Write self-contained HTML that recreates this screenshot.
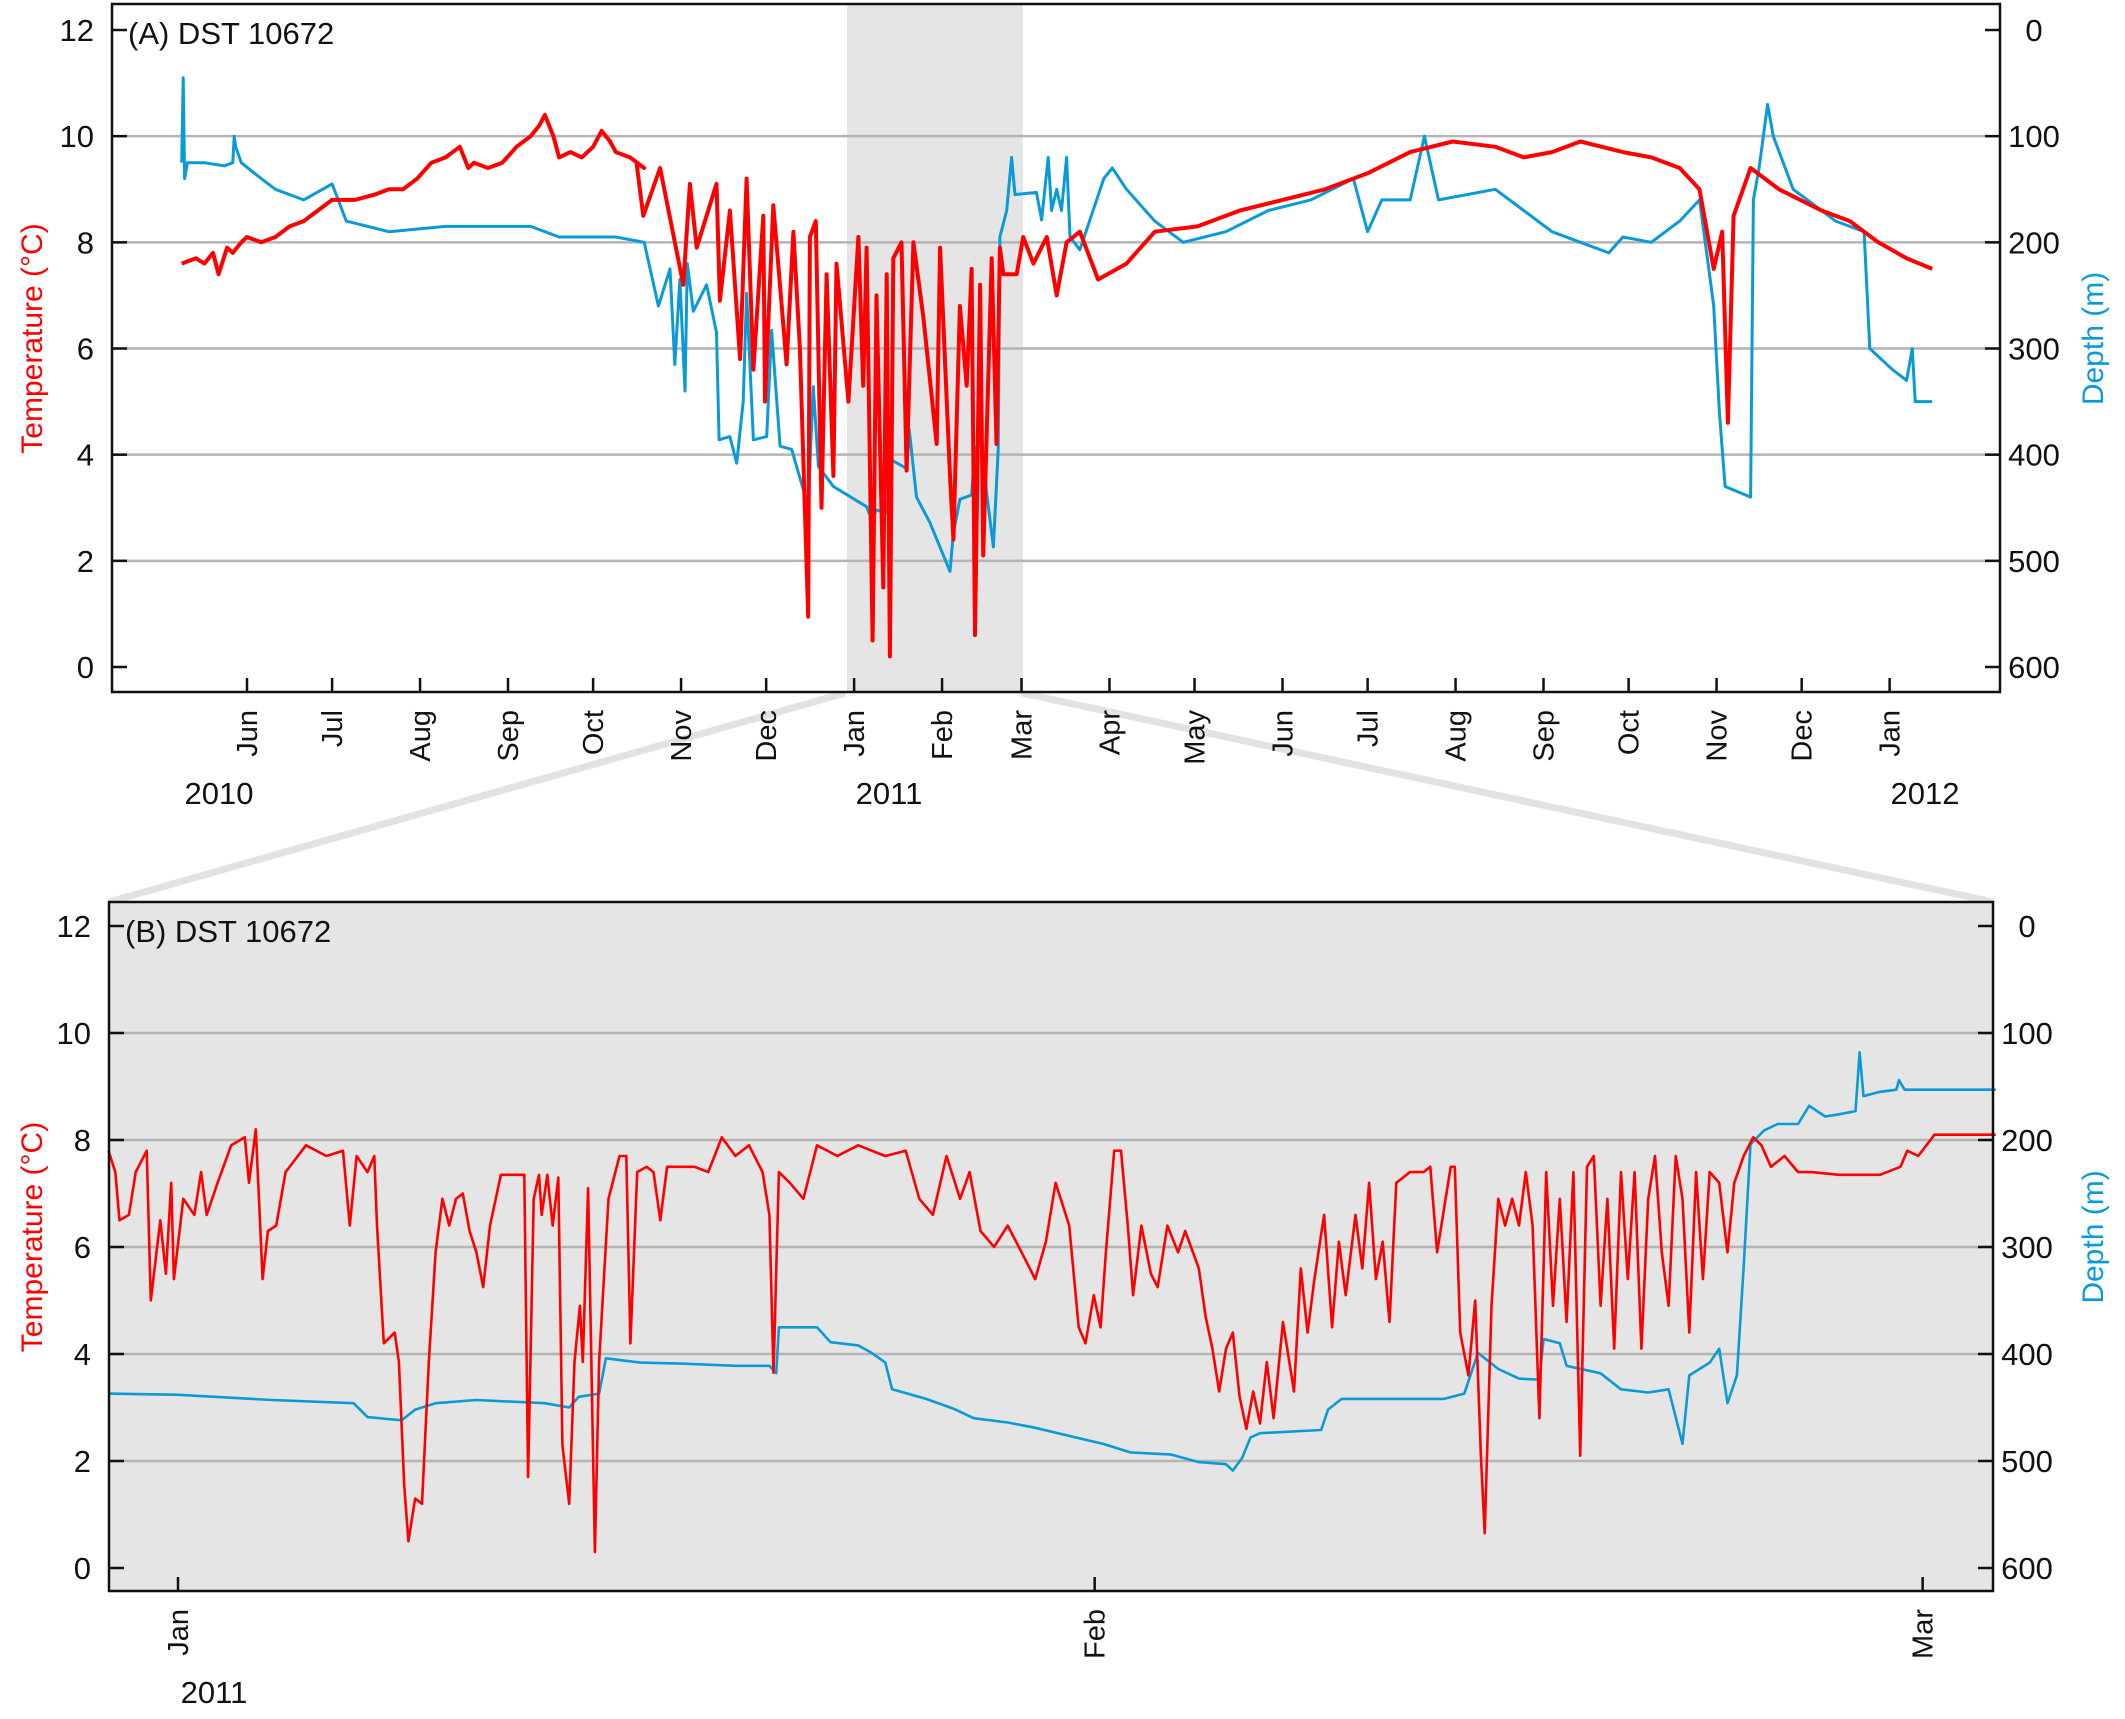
<!DOCTYPE html>
<html><head><meta charset="utf-8"><style>
body{margin:0;background:#fff}
svg text{font-family:"Liberation Sans",sans-serif}
</style></head><body>
<svg id="fig" width="2125" height="1714" viewBox="0 0 2125 1714" xmlns="http://www.w3.org/2000/svg"></svg>
<script>
// Panel A: days since 1 Jun 2010
const dayA_T=[-23,-18,-15,-12,-10,-7,-5,-2,0,5,10,15,20,25,30,38,45,50,55,60,65,70,75,78,80,85,90,95,100,103,105,108,110,114,118,122,125,128,130,135,140,
137.3,139.7,145.6,153.8,156.1,158.5,165.5,166.7,170.2,173.8,176.1,178.5,182,182.6,185.5,190.2,192.6,194.9,197.8,198.4,200.5,202.5,204.3,206.7,207.8,212,215.5,217.2,218.4,220.5,221.9,224.3,225.5,226.6,227.8,230.7,232.5,234.9,238.4,243.1,244.3,247.8,249,251.3,253.7,255.4,256.6,258.4,259.5,262.5,264.2,265.4,266.6,271.3,273.6,277.2,281.9,285.4,288.9,293.6,
300,310,320,335,350,365,380,395,410,425,440,450,460,470,485,495,505,512,517,520,522,524,530,540,555,565,575,585,594];
const tempA=[7.6,7.7,7.6,7.8,7.4,7.9,7.8,8.0,8.1,8.0,8.1,8.3,8.4,8.6,8.8,8.8,8.9,9.0,9.0,9.2,9.5,9.6,9.8,9.4,9.5,9.4,9.5,9.8,10.0,10.2,10.4,10.0,9.6,9.7,9.6,9.8,10.1,9.9,9.7,9.6,9.4,
9.5,8.5,9.4,7.2,9.1,7.9,9.1,6.9,8.6,5.8,9.2,5.6,8.5,5.0,8.7,5.7,8.2,6.0,0.95,8.1,8.4,3.0,7.4,3.6,7.6,5.0,8.1,5.3,7.9,0.5,7.0,1.5,7.4,0.2,7.7,8.0,3.7,8.0,6.6,4.2,7.9,3.6,2.4,6.8,5.3,7.5,0.6,7.2,2.1,7.7,4.2,7.9,7.4,7.4,8.1,7.6,8.1,7.0,8.0,8.2,
7.3,7.6,8.2,8.3,8.6,8.8,9.0,9.3,9.7,9.9,9.8,9.6,9.7,9.9,9.7,9.6,9.4,9.0,7.5,8.2,4.6,8.5,9.4,9.0,8.6,8.4,8.0,7.7,7.5];
const dayA_D=[-23,-22.5,-22,-21,-15,-8,-5,-4.5,-4,-2,5,10,20,30,35,50,70,100,110,130,140,145,149.1,150.8,152.6,154.4,155.2,157.3,162,165.5,166.4,170.2,172.6,174.9,176.1,178.5,183.2,184.9,187.9,192,196.1,197.8,199.6,201.4,206.7,218.4,220.2,221.9,225.5,227.2,232.5,233.4,236,240.7,247.8,249,251.3,255.4,256.6,258.9,260.7,263.1,264.8,265.4,267.8,269.5,270.7,278.3,280.1,282.4,283.6,285.4,287.1,288.9,290.1,293.6,
302,305,310,320,330,345,360,375,390,393,395,400,410,415,420,440,450,460,470,480,485,495,505,512,515,517,519,521,530,531,533,536,538,545,560,570,572,580,585,587,588,594];
const depthA=[125,45,140,125,125,128,125,100,110,125,140,150,160,145,180,190,185,185,195,195,200,260,225,315,235,340,220,265,240,285,386,383,408,350,248,386,383,283,392,395,433,447,336,411,430,449,461,452,455,405,413,376,440,464,510,474,442,438,395,383,436,487,395,195,170,120,155,153,179,120,170,150,170,120,195,207,
140,130,150,180,200,190,170,160,140,170,190,160,160,100,160,150,170,190,200,210,195,200,180,160,220,260,360,430,440,160,130,70,100,150,180,190,300,320,330,300,350,350];
// Panel B: days since 1 Jan 2011
const dayB_T=[-2.35,-2.12,-1.98,-1.66,-1.43,-1.06,-0.92,-0.6,-0.41,-0.23,-0.14,0.18,0.55,0.78,0.97,1.34,1.8,2.26,2.4,2.63,2.86,3.04,3.32,3.64,4.33,5.02,5.58,5.81,6.04,6.41,6.64,6.73,6.96,7.33,7.47,7.65,7.79,8.02,8.25,8.48,8.71,8.94,9.17,9.4,9.63,9.86,10.09,10.32,10.55,10.92,11.71,11.84,12.03,12.21,12.3,12.49,12.67,12.86,13.0,13.23,13.41,13.59,13.69,13.87,14.1,14.24,14.56,14.93,15.16,15.3,15.53,15.85,16.08,16.31,16.54,17.47,17.93,18.39,18.85,19.31,19.77,20.0,20.14,20.32,20.69,21.15,21.61,22.3,23.0,23.92,24.61,25.07,25.53,25.99,26.45,26.77,27.14,27.6,28.06,28.53,28.99,29.35,29.68,30.14,30.46,30.69,30.97,31.2,31.38,31.66,31.89,32.12,32.3,32.58,32.9,33.13,33.46,33.82,34.06,34.52,34.75,34.98,35.21,35.44,35.67,35.9,36.13,36.36,36.59,36.82,37.05,37.37,37.74,37.97,38.2,38.43,38.76,39.03,39.26,39.49,39.82,40.05,40.28,40.51,40.74,40.97,41.2,41.66,42.12,42.35,42.58,43.04,43.18,43.36,43.64,43.87,44.06,44.19,44.42,44.65,44.88,45.12,45.35,45.58,45.81,46.04,46.27,46.5,46.73,46.96,47.19,47.42,47.65,47.88,48.11,48.34,48.57,48.8,49.03,49.26,49.49,49.72,49.95,50.18,50.41,50.65,50.88,51.11,51.34,51.57,51.8,52.12,52.4,52.63,52.95,53.27,53.55,53.87,54.33,54.79,55.25,56.17,57.56,58.25,58.48,58.85,59.4,61.47];
const tempB=[7.8,7.4,6.5,6.6,7.4,7.8,5.0,6.5,5.5,7.2,5.4,6.9,6.6,7.4,6.6,7.2,7.9,8.05,7.2,8.2,5.4,6.3,6.4,7.4,7.9,7.7,7.8,6.4,7.7,7.4,7.7,6.4,4.2,4.4,3.85,1.55,0.5,1.3,1.2,3.85,5.9,6.9,6.4,6.9,7.0,6.3,5.9,5.25,6.4,7.35,7.35,1.7,6.9,7.35,6.6,7.35,6.4,7.3,2.3,1.2,3.85,4.9,3.85,7.1,0.3,3.85,6.9,7.7,7.7,4.2,7.4,7.5,7.4,6.5,7.5,7.5,7.4,8.05,7.7,7.9,7.4,6.6,3.65,7.4,7.2,6.9,7.9,7.7,7.9,7.7,7.8,6.9,6.6,7.7,6.9,7.4,6.3,6.0,6.4,5.9,5.4,6.1,7.2,6.4,4.5,4.2,5.1,4.5,5.9,7.8,7.8,6.4,5.1,6.4,5.5,5.25,6.4,5.9,6.3,5.6,4.7,4.1,3.3,4.1,4.4,3.2,2.6,3.3,2.7,3.85,2.8,4.6,3.3,5.6,4.4,5.4,6.6,4.5,6.1,5.1,6.6,5.6,7.2,5.4,6.1,4.6,7.2,7.4,7.4,7.5,5.9,7.5,7.5,4.4,3.6,5.0,2.1,0.65,4.9,6.9,6.4,6.9,6.4,7.4,6.4,2.8,7.4,4.9,6.9,4.6,7.4,2.1,7.5,7.7,4.9,6.9,4.1,7.4,5.4,7.4,4.1,6.9,7.7,5.9,4.9,7.7,6.9,4.4,7.4,5.4,7.4,7.2,5.9,7.2,7.7,8.05,7.9,7.5,7.7,7.4,7.4,7.35,7.35,7.5,7.8,7.7,8.1,8.1];
const dayB_D=[-2.35,-0.05,3.18,5.94,6.41,7.56,8.02,8.71,10.09,12.4,13.23,13.55,14.24,14.47,15.62,17.0,18.85,20.0,20.23,20.32,21.61,22.07,23.0,23.46,23.92,24.15,25.3,26.22,26.91,28.06,28.99,30.37,31.29,32.21,33.59,34.52,35.44,35.67,35.99,36.27,36.59,38.66,38.89,39.35,42.81,43.5,43.96,44.65,45.35,46.04,46.18,46.73,46.96,48.11,48.8,49.72,50.41,50.88,51.11,51.8,52.12,52.4,52.72,52.95,53.18,53.64,54.1,54.79,55.16,55.71,56.17,56.73,56.87,57.0,57.56,58.11,58.2,58.39,61.47];
const depthB=[437,438,443,446,459,462,452,446,443,446,450,440,437,404,408,409,411,411,418,375,375,389,392,399,408,433,442,451,460,464,469,478,484,492,494,501,503,509,497,478,474,471,452,442,442,437,399,414,423,424,386,390,411,418,433,436,433,484,420,408,395,446,420,318,204,191,185,185,168,178,176,173,118,159,155,153,144,153,153];
const tempTicks=[0,2,4,6,8,10,12];
const depthTicks=[0,100,200,300,400,500,600];
const monthsA=["Jun","Jul","Aug","Sep","Oct","Nov","Dec","Jan","Feb","Mar","Apr","May","Jun","Jul","Aug","Sep","Oct","Nov","Dec","Jan"];
const monthDaysA=[0,30,61,92,122,153,183,214,245,273,304,334,365,395,426,457,487,518,548,579];
const yearsA=["2010","2011","2012"];
const yearDaysA=[-30,214,579];
const monthsB=["Jan","Feb","Mar"];
const monthDaysB=[0,31,59];

const NS="http://www.w3.org/2000/svg";
const svg=document.getElementById('fig');
function mk(tag,attrs,parent){const e=document.createElementNS(NS,tag);for(const k in attrs)e.setAttribute(k,attrs[k]);(parent||svg).appendChild(e);return e;}
function txt(s,attrs){const e=mk('text',attrs);e.textContent=s;return e;}

function panel(P){
  const xS=d=>P.x0+(d-P.d0)*P.pxPerDay;
  const yT=t=>P.yBot-(t/12)*(P.yBot-P.yTop);
  const yD=d=>P.yTop+(d/600)*(P.yBot-P.yTop);
  const bg=mk('rect',{x:P.L,y:P.T,width:P.R-P.L,height:P.B-P.T,fill:P.bg});
  
  
  if(P.shade){const s=mk('rect',{x:xS(P.shade[0]),y:P.T,width:xS(P.shade[1])-xS(P.shade[0]),height:P.B-P.T,fill:'#e5e5e5'});
    
    }
  tempTicks.forEach(t=>{if(t>0&&t<12){const g=mk('line',{x1:P.L,x2:P.R,y1:yT(t),y2:yT(t),stroke:'#b4b4b4','stroke-width':2.5});
    
    }});
  const pd=(xs,ys,fy)=>xs.map((d,i)=>(i?'L':'M')+xS(d).toFixed(1)+','+fy(ys[i]).toFixed(1)).join('');
  const bl=mk('path',{d:pd(P.dD,P.vD,yD),fill:'none',stroke:'#0a9ad8','stroke-width':P.lw,'stroke-linejoin':'round'});
  
  
  const rl=mk('path',{d:pd(P.dT,P.vT,yT),fill:'none',stroke:'#ff0000','stroke-width':P.lwT,'stroke-linejoin':'round'});
  
  
  const fr=mk('rect',{x:P.L,y:P.T,width:P.R-P.L,height:P.B-P.T,fill:'none',stroke:'#111','stroke-width':2.5});
  
  
  tempTicks.forEach(t=>{mk('line',{x1:P.L,x2:P.L+15,y1:yT(t),y2:yT(t),stroke:'#111','stroke-width':2.5});
    const l=txt(String(t),{x:P.L-18,y:yT(t)+11,'font-size':31,'text-anchor':'end',fill:'#111'});
    
    });
  depthTicks.forEach(d=>{mk('line',{x1:P.R-15,x2:P.R,y1:yD(d),y2:yD(d),stroke:'#111','stroke-width':2.5});
    const l=txt(String(d),{x:P.R+34,y:yD(d)+11,'font-size':31,'text-anchor':'middle',fill:'#111'});
    
    });
  P.months.forEach((m,i)=>{const x=xS(P.mDays[i]);mk('line',{x1:x,x2:x,y1:P.B,y2:P.B-14,stroke:'#111','stroke-width':2.5});
    const l=txt(m,{x:0,y:0,'font-size':29,'text-anchor':'end',fill:'#111',transform:`translate(${x+10},${P.B+18}) rotate(-90)`});
    
    });
  P.years.forEach((y,i)=>{const l=txt(y,{x:P.yearX[i],y:P.B+112,'font-size':31,'text-anchor':'middle',fill:'#111'});
    
    });
  const ti=txt(P.title,{x:P.L+16,y:P.T+40,'font-size':31,fill:'#111'});
  
  
  const cy=(P.yTop+P.yBot)/2-10;
  const ta=txt('Temperature (°C)',{x:0,y:0,'font-size':30,'text-anchor':'middle',fill:'#ff0000',transform:`translate(42,${cy}) rotate(-90)`});
  
  
  const da=txt('Depth (m)',{x:0,y:0,'font-size':30,'text-anchor':'middle',fill:'#0a9ad8',transform:`translate(2103,${cy}) rotate(-90)`});
  
  
  return xS;
}
// connector lines
const c1=mk('line',{x1:845,y1:693,x2:109,y2:902,stroke:'#e2e2e2','stroke-width':7});


const c2=mk('line',{x1:1022,y1:693,x2:1993,y2:902,stroke:'#e2e2e2','stroke-width':7});



panel({id:'panel-a',L:112,R:2000,T:4,B:692,yTop:30,yBot:667,x0:247,d0:0,pxPerDay:2.837,bg:'#fff',shade:[211.5,273.5],
  dT:dayA_T,vT:tempA,dD:dayA_D,vD:depthA,lw:3,lwT:4,months:monthsA,mDays:monthDaysA,years:yearsA,yearX:[219,889,1925],title:'(A) DST 10672'});
panel({id:'panel-b',L:109,R:1993,T:902,B:1591,yTop:926,yBot:1568,x0:178,d0:0,pxPerDay:29.57,bg:'#e5e5e5',
  dT:dayB_T,vT:tempB,dD:dayB_D,vD:depthB,lw:2.6,lwT:2.6,months:monthsB,mDays:monthDaysB,years:['2011'],yearX:[214],title:'(B) DST 10672'});
</script>
</body></html>
